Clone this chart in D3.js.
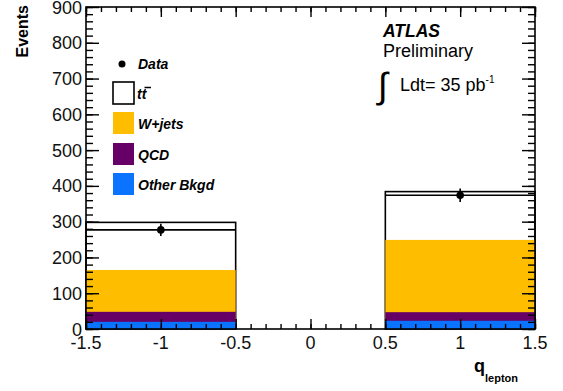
<!DOCTYPE html>
<html><head><meta charset="utf-8">
<script src="https://cdn.jsdelivr.net/npm/d3@7"></script>
<style>body{margin:0;background:#fff}svg{display:block}text{font-family:"Liberation Sans",Arial,sans-serif}</style>
</head><body><svg id="c" width="563" height="391"></svg>
<script>
// ---- data ----
const binLow = [-1.5, 0.5];
const binHigh = [-0.5, 1.5];
const binCenter = [-1, 1];
const otherBkgd = [20, 23];
const qcd = [28, 24];
const wjets = [117, 202];
const ttbar = [133, 135];
const dataVals = [277, 374];
const dataErr = [17, 19];
const yTicks = [0, 100, 200, 300, 400, 500, 600, 700, 800, 900];
const xTicks = [-1.5, -1, -0.5, 0, 0.5, 1, 1.5];
const xTickLabels = ["-1.5", "-1", "-0.5", "0", "0.5", "1", "1.5"];
const seriesNames = ["Other Bkgd", "QCD", "W+jets", "ttbar"];
const seriesColors = ["#0a73ff", "#660066", "#ffbd00", "#ffffff"];

const svg = d3.select("#c");
const L = 86, R = 535, T = 7, B = 329;
const x = d3.scaleLinear().domain([-1.5, 1.5]).range([L, R]);
const y = d3.scaleLinear().domain([0, 900]).range([B, T]);

// stack
const series = [otherBkgd, qcd, wjets, ttbar];
const cum = binCenter.map((_, i) => {
  let s = 0; return series.map(v => (s += v[i]));
});
// draw largest cumulative first (ROOT THStack style)
for (let k = series.length - 1; k >= 0; k--) {
  binCenter.forEach((_, i) => {
    svg.append("rect")
      .attr("x", x(binLow[i])).attr("width", x(binHigh[i]) - x(binLow[i]))
      .attr("y", y(cum[i][k])).attr("height", y(0) - y(cum[i][k]))
      .attr("fill", seriesColors[k])
      .attr("stroke", k === 3 ? "#000" : "none")
      .attr("stroke-width", k === 3 ? 1.6 : 0);
  });
}

// data
binCenter.forEach((c, i) => {
  svg.append("line").attr("x1", x(binLow[i])).attr("x2", x(binHigh[i]))
    .attr("y1", y(dataVals[i])).attr("y2", y(dataVals[i])).attr("stroke", "#000").attr("stroke-width", 1.6);
  svg.append("line").attr("x1", x(c)).attr("x2", x(c))
    .attr("y1", y(dataVals[i] - dataErr[i])).attr("y2", y(dataVals[i] + dataErr[i])).attr("stroke", "#000").attr("stroke-width", 1.6);
  svg.append("circle").attr("cx", x(c)).attr("cy", y(dataVals[i])).attr("r", 3.8).attr("fill", "#000");
});

// frame & ticks
svg.append("rect").attr("x", L).attr("y", T).attr("width", R - L).attr("height", B - T)
  .attr("fill", "none").attr("stroke", "#000").attr("stroke-width", 1.6);

const yMinor = d3.range(0, 901, 20);
const gL = svg.append("g").attr("transform", `translate(${L},0)`);
gL.call(d3.axisRight(y).tickValues(yMinor).tickSize(7).tickFormat(""));
const gL2 = svg.append("g").attr("transform", `translate(${L},0)`);
gL2.call(d3.axisRight(y).tickValues(yTicks).tickSize(13).tickFormat(""));
const gR = svg.append("g").attr("transform", `translate(${R},0)`);
gR.call(d3.axisLeft(y).tickValues(yMinor).tickSize(7).tickFormat(""));
const gR2 = svg.append("g").attr("transform", `translate(${R},0)`);
gR2.call(d3.axisLeft(y).tickValues(yTicks).tickSize(13).tickFormat(""));
const xMinor = d3.range(-15, 16, 1).map(d => d / 10);
const gB = svg.append("g").attr("transform", `translate(0,${B})`);
gB.call(d3.axisTop(x).tickValues(xMinor).tickSize(5).tickFormat(""));
const gB2 = svg.append("g").attr("transform", `translate(0,${B})`);
gB2.call(d3.axisTop(x).tickValues(xTicks).tickSize(10).tickFormat(""));
const gT = svg.append("g").attr("transform", `translate(0,${T})`);
gT.call(d3.axisBottom(x).tickValues(xMinor).tickSize(5).tickFormat(""));
const gT2 = svg.append("g").attr("transform", `translate(0,${T})`);
gT2.call(d3.axisBottom(x).tickValues(xTicks).tickSize(10).tickFormat(""));
svg.selectAll(".domain").remove();
svg.selectAll(".tick line").attr("stroke", "#000").attr("stroke-width", 1.4);

// tick labels
const yl = svg.append("g");
yTicks.forEach(t => yl.append("text").attr("x", 82).attr("y", y(t) + 6.5)
  .attr("text-anchor", "end").attr("font-size", 18).attr("fill", "#111").text(t));
xTicks.forEach((t, i) => svg.append("text").attr("x", x(t)).attr("y", 349)
  .attr("text-anchor", "middle").attr("font-size", 18).attr("fill", "#111").text(xTickLabels[i]));

// axis titles
svg.append("text").attr("transform", "translate(28,5) rotate(-90)").attr("text-anchor", "end")
  .attr("font-size", 16).attr("font-weight", "bold").text("Events");
const xt = svg.append("text").attr("x", 474).attr("y", 372).attr("font-weight", "bold").attr("font-size", 18);
xt.append("tspan").text("q");
xt.append("tspan").attr("font-size", 11).attr("dy", 10).text("lepton");

// legend
const leg = svg.append("g");
leg.append("circle").attr("cx", 122).attr("cy", 64).attr("r", 3.5).attr("fill", "#000");
leg.append("text").attr("x", 138).attr("y", 68.5).attr("font-size", 14).attr("font-weight", "bold").attr("font-style", "italic").text("Data");
const boxY = [82, 112, 143, 173];
const legOrder = [3, 2, 1, 0];
const legLabels = ["tt", "W+jets", "QCD", "Other Bkgd"];
legOrder.forEach((k, j) => {
  leg.append("rect").attr("x", 113).attr("y", boxY[j]).attr("width", 21).attr("height", 22)
    .attr("fill", seriesColors[k]).attr("stroke", k === 3 ? "#000" : "none").attr("stroke-width", 1.6);
  const tx = leg.append("text").attr("x", j === 0 ? 137 : 138).attr("y", boxY[j] + 17)
    .attr("font-size", 14).attr("font-weight", "bold").attr("font-style", "italic");
  tx.text(legLabels[j]);
  if (j === 0) {
    leg.append("line").attr("x1", 144.5).attr("x2", 151).attr("y1", boxY[0] + 5.5).attr("y2", boxY[0] + 5.5)
      .attr("stroke", "#000").attr("stroke-width", 1.5);
  }
});

// ATLAS label
svg.append("text").attr("x", 383).attr("y", 37).attr("font-size", 17.5).attr("font-weight", "bold").attr("font-style", "italic").text("ATLAS");
svg.append("text").attr("x", 383).attr("y", 57).attr("font-size", 18).text("Preliminary");
svg.append("text").attr("x", 378).attr("y", 98).attr("font-size", 36).attr("font-family", "DejaVu Sans").text("∫");
const lum = svg.append("text").attr("x", 400).attr("y", 91).attr("font-size", 18);
lum.append("tspan").text("Ldt= 35 pb");
lum.append("tspan").attr("font-size", 10).attr("dy", -8).text("-1");
</script></body></html>
